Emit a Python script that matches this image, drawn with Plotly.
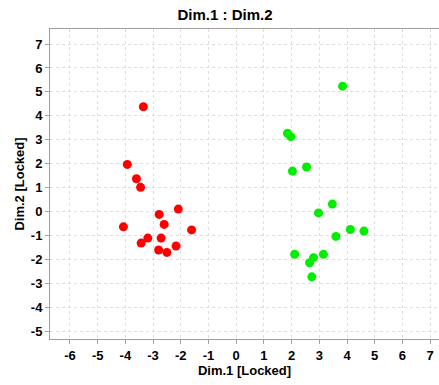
import plotly.graph_objects as go

red_x = [-3.35, -3.93, -3.60, -3.45, -2.09, -2.78, -4.07, -2.60, -1.61, -3.19, -2.71, -3.43, -2.17, -2.80, -2.50]
red_y = [4.38, 1.97, 1.37, 1.01, 0.10, -0.12, -0.64, -0.54, -0.77, -1.11, -1.11, -1.32, -1.44, -1.61, -1.71]

green_x = [3.84, 1.85, 1.97, 2.54, 2.03, 3.47, 2.97, 4.12, 4.61, 3.60, 2.11, 3.15, 2.79, 2.65, 2.73]
green_y = [5.24, 3.27, 3.13, 1.86, 1.69, 0.31, -0.06, -0.75, -0.82, -1.04, -1.79, -1.79, -1.93, -2.14, -2.73]

x_ticks = list(range(-6, 8))
y_ticks = list(range(-5, 8))

FONT = "Liberation Sans, Arial, sans-serif"

fig = go.Figure()
fig.add_trace(go.Scatter(x=red_x, y=red_y, mode="markers",
                         marker=dict(color="#ff0000", size=9, line=dict(width=0)),
                         showlegend=False))
fig.add_trace(go.Scatter(x=green_x, y=green_y, mode="markers",
                         marker=dict(color="#00ee00", size=9, line=dict(width=0)),
                         showlegend=False))

axis_common = dict(
    showgrid=True, gridcolor="#dedede", griddash="dot", gridwidth=1,
    zeroline=False, showline=True, linecolor="#a0a0a0", linewidth=1, mirror=True,
    ticks="outside", ticklen=4, tickcolor="#a0a0a0", automargin=False,
    tickfont=dict(family=FONT, size=13, color="#000000", weight="bold"),
)

fig.update_layout(
    width=439, height=385,
    margin=dict(l=50, r=0, t=29, b=46),
    paper_bgcolor="white", plot_bgcolor="white",
    title=dict(text="Dim.1 : Dim.2", x=225/439, xref="container", xanchor="center",
               y=1 - 15/385, yref="container", yanchor="middle", automargin=False,
               font=dict(family=FONT, size=15, color="#000000", weight="bold")),
    xaxis=dict(range=[-6.72, 7.32], tickvals=x_ticks, ticktext=[str(v) for v in x_ticks],
               title=dict(text="Dim.1 [Locked]", standoff=3,
                          font=dict(family=FONT, size=13, color="#000000", weight="bold")),
               **axis_common),
    yaxis=dict(range=[-5.33, 7.63], tickvals=y_ticks, ticktext=[str(v) for v in y_ticks],
               title=dict(text="Dim.2 [Locked]", standoff=3,
                          font=dict(family=FONT, size=13, color="#000000", weight="bold")),
               **axis_common),
)

fig.write_html("out.html", config={"displayModeBar": False},
               post_script="document.body.style.margin='0';")
